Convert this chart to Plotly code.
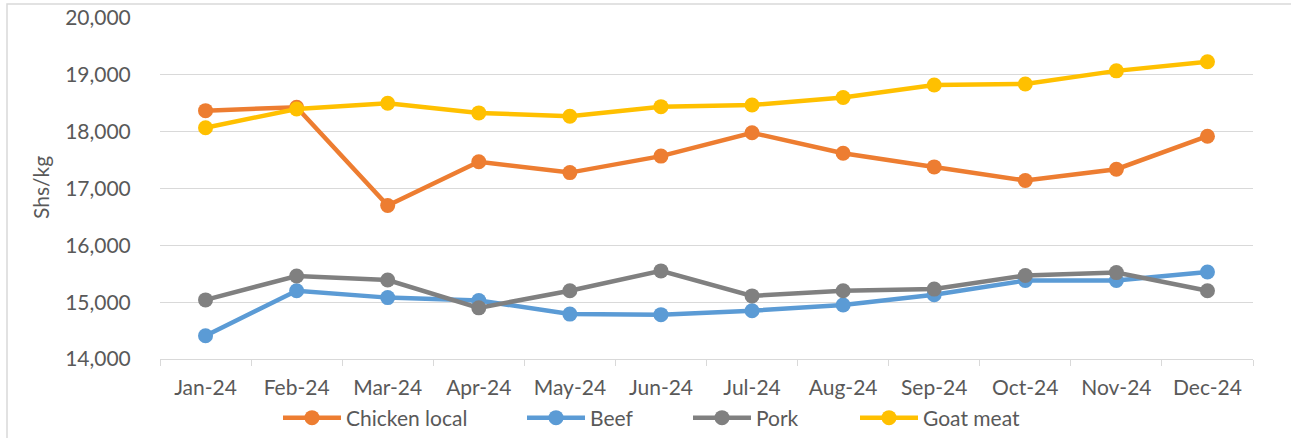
import plotly.graph_objects as go

months = ["Jan-24", "Feb-24", "Mar-24", "Apr-24", "May-24", "Jun-24",
          "Jul-24", "Aug-24", "Sep-24", "Oct-24", "Nov-24", "Dec-24"]
chicken_local = [18370, 18430, 16700, 17470, 17280, 17570, 17980, 17620, 17380, 17140, 17340, 17920]
beef = [14410, 15200, 15080, 15030, 14790, 14780, 14850, 14950, 15130, 15380, 15380, 15530]
pork = [15040, 15460, 15390, 14900, 15200, 15550, 15110, 15200, 15230, 15470, 15520, 15200]
goat_meat = [18070, 18400, 18500, 18330, 18270, 18440, 18470, 18600, 18820, 18840, 19070, 19230]

series = [
    ("Chicken local", chicken_local, "#ED7D31"),
    ("Beef", beef, "#5B9BD5"),
    ("Pork", pork, "#808080"),
    ("Goat meat", goat_meat, "#FFC000"),
]

FONT = "Lato"
FS = 21
TXT = "#595959"
W, H = 1291, 438
# plot area position in page pixels
SX0, SX1, SY0, SY1 = 160, 1253, 18, 359
L, T = SX0, SY0
R = W - SX1
B = H - SY1
PW, PH = W - L - R, H - T - B

def px_x(sx):
    return (sx - L) / PW

def px_y(sy):
    return (H - B - sy) / PH

legend_names = ["legend", "legend2", "legend3", "legend4"]
legend_px = [278, 522, 688, 855]

fig = go.Figure()
for (name, vals, color), lg in zip(series, legend_names):
    fig.add_trace(go.Scatter(
        x=months, y=vals, name=name, mode="lines+markers",
        line=dict(color=color, width=4.5),
        marker=dict(color=color, size=15),
        legend=lg,
    ))

layout_legends = {}
for lg, lx in zip(legend_names, legend_px):
    layout_legends[lg] = dict(
        orientation="h", x=px_x(lx), xanchor="left", y=px_y(418), yanchor="middle",
        font=dict(family=FONT, size=FS, color=TXT), itemwidth=58,
        bgcolor="rgba(0,0,0,0)", borderwidth=0,
    )

fig.update_layout(
    width=W, height=H,
    margin=dict(l=L, r=R, t=T, b=B, autoexpand=False),
    paper_bgcolor="white", plot_bgcolor="white",
    font=dict(family=FONT, size=FS, color=TXT),
    showlegend=True,
    xaxis=dict(
        type="category", showgrid=False, showline=True, linecolor="#d9d9d9", linewidth=1,
        ticks="outside", tickson="boundaries", ticklen=6, tickcolor="#d9d9d9",
        ticklabelstandoff=10, tickfont=dict(size=FS, color=TXT),
        range=[-0.5, 11.5], automargin=False,
    ),
    yaxis=dict(
        range=[14000, 20000], dtick=1000, tickformat=",d",
        showgrid=True, gridcolor="#d9d9d9", gridwidth=1,
        zeroline=False, showline=False,
        ticks="outside", ticklen=24, tickcolor="rgba(0,0,0,0)",
        tickfont=dict(size=FS, color=TXT), automargin=False,
    ),
    annotations=[dict(
        text="Shs/kg", textangle=-90, xref="paper", yref="paper",
        x=px_x(40), y=px_y(188), xanchor="center", yanchor="middle",
        showarrow=False, font=dict(size=FS, color=TXT, family=FONT),
    )],
    shapes=[dict(
        type="rect", xref="paper", yref="paper",
        x0=px_x(7), x1=px_x(1320), y0=px_y(470), y1=px_y(4),
        line=dict(color="#d9d9d9", width=1.5), fillcolor="rgba(0,0,0,0)", layer="below",
    )],
    **layout_legends,
)

fig.write_html("out.html", config={"displayModeBar": False},
               post_script="document.body.style.margin='0';")
